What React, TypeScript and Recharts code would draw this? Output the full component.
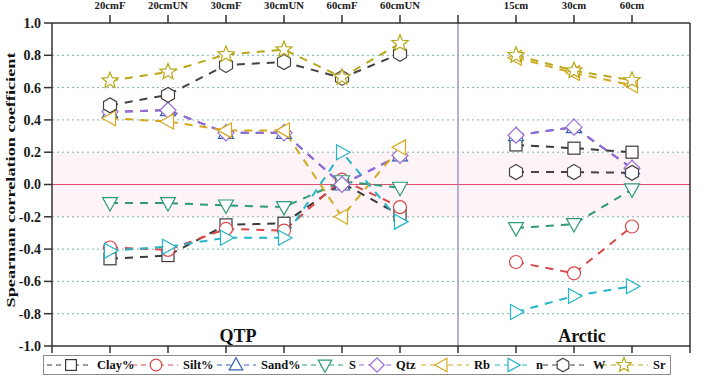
import React from 'react';
import {
  LineChart, Line, XAxis, YAxis, ReferenceLine, ReferenceArea, Legend, Customized,
} from 'recharts';

// x positions 1..10, slot 7 is the gap between QTP and Arctic
const categories = ['20cmF', '20cmUN', '30cmF', '30cmUN', '60cmF', '60cmUN', '', '15cm', '30cm', '60cm'];
const clay = [-0.46, -0.44, -0.25, -0.24, 0.01, -0.19, null, 0.245, 0.225, 0.2];
const silt = [-0.39, -0.405, -0.275, -0.285, 0.03, -0.14, null, -0.48, -0.55, -0.26];
const sand = [0.45, 0.46, 0.32, 0.32, 0.0, 0.18, null, 0.305, 0.355, 0.1];
const sVals = [-0.115, -0.115, -0.13, -0.14, 0.02, -0.02, null, -0.27, -0.245, -0.03];
const qtz = [0.45, 0.46, 0.32, 0.32, 0.0, 0.18, null, 0.305, 0.355, 0.1];
const rb = [0.41, 0.39, 0.335, 0.335, -0.2, 0.23, null, 0.785, 0.69, 0.615];
const nVals = [-0.41, -0.385, -0.33, -0.33, 0.2, -0.23, null, -0.79, -0.69, -0.63];
const w = [0.49, 0.555, 0.74, 0.758, 0.66, 0.81, null, 0.077, 0.077, 0.072];
const sr = [0.643, 0.697, 0.805, 0.835, 0.664, 0.874, null, 0.8, 0.705, 0.645];

const yTicks = [-1, -0.8, -0.6, -0.4, -0.2, 0, 0.2, 0.4, 0.6, 0.8, 1];
const gridValues = [-0.8, -0.6, -0.4, -0.2, 0.2, 0.4, 0.6, 0.8];
const bottomTicks = [0, 1, 2, 3, 4, 5, 6, 7, 8, 9, 10, 11];
const topTicks = [1, 2, 3, 4, 5, 6, 7, 8, 9, 10];

const data = categories.map((c, i) => ({
  x: i + 1,
  clay: clay[i], silt: silt[i], sand: sand[i], s: sVals[i], qtz: qtz[i],
  rb: rb[i], n: nVals[i], w: w[i], sr: sr[i],
}));

const series = [
  { key: 'clay', name: 'Clay%', color: '#3a3a3a', shape: 'square' },
  { key: 'silt', name: 'Silt%', color: '#d94848', shape: 'circle' },
  { key: 'sand', name: 'Sand%', color: '#2f62b0', shape: 'triUp' },
  { key: 's', name: 'S', color: '#2e9a78', shape: 'triDown' },
  { key: 'qtz', name: 'Qtz', color: '#9a6ad8', shape: 'diamond' },
  { key: 'rb', name: 'Rb', color: '#d6a820', shape: 'triLeft' },
  { key: 'n', name: 'n', color: '#22b4c8', shape: 'triRight' },
  { key: 'w', name: 'W', color: '#4a4242', shape: 'hexagon' },
  { key: 'sr', name: 'Sr', color: '#b8a818', shape: 'star' },
];

// legend layout (px from the legend box's left edge): item start, marker centre, label start
const legendStart = [3, 88, 173, 258, 315, 377, 451, 499, 558];
const legendMarker = [27, 112, 192, 281, 333, 398, 469, 519, 580];
const legendLabel = [53, 139, 217, 305, 352, 430, 492, 549, 609];

const FONT = '"Liberation Serif", "Times New Roman", serif';

function Marker({ shape, cx, cy, color, k = 1 }: any) {
  const p = (pts: number[][]) => pts.map(([a, b]) => `${cx + a * k},${cy + b * k}`).join(' ');
  const common = { fill: '#fff', stroke: color, strokeWidth: 1.2 };
  switch (shape) {
    case 'square':
      return <rect x={cx - 6 * k} y={cy - 6 * k} width={12 * k} height={12 * k} {...common} />;
    case 'circle':
      return <circle cx={cx} cy={cy} r={6.5 * k} {...common} />;
    case 'triUp':
      return <polygon points={p([[0, -8], [7.5, 5.5], [-7.5, 5.5]])} {...common} />;
    case 'triDown':
      return <polygon points={p([[0, 8], [7.5, -5.5], [-7.5, -5.5]])} {...common} />;
    case 'triLeft':
      return <polygon points={p([[-8, 0], [5.5, -7.5], [5.5, 7.5]])} {...common} />;
    case 'triRight':
      return <polygon points={p([[8, 0], [-5.5, -7.5], [-5.5, 7.5]])} {...common} />;
    case 'diamond':
      return <polygon points={p([[0, -8], [8, 0], [0, 8], [-8, 0]])} {...common} />;
    case 'hexagon': {
      const pts = [0, 1, 2, 3, 4, 5].map((i) => {
        const a = (-90 + 60 * i) * Math.PI / 180;
        return [7.5 * Math.cos(a), 7.5 * Math.sin(a)];
      });
      return <polygon points={p(pts)} {...common} />;
    }
    case 'star': {
      const pts = [];
      for (let i = 0; i < 10; i++) {
        const r = i % 2 === 0 ? 8.5 : 3.8;
        const a = (-90 + 36 * i) * Math.PI / 180;
        pts.push([r * Math.cos(a), r * Math.sin(a)]);
      }
      return <polygon points={p(pts)} {...common} />;
    }
    default:
      return null;
  }
}

const makeDot = (shape: string, color: string) => (props: any) => {
  const { cx, cy, index, value } = props;
  if (cx == null || cy == null || value == null) return <g key={`e${index}`} />;
  return <Marker key={`m${index}`} shape={shape} cx={cx} cy={cy} color={color} />;
};

const renderLegend = () => (
  <div style={{
    position: 'relative', width: 628, height: 20, border: '1px solid #8a8a8a', background: '#fff',
    fontFamily: FONT, fontWeight: 'bold', fontSize: 12.5, color: '#111', boxSizing: 'border-box',
  }}>
    <svg width={626} height={18} style={{ position: 'absolute', left: 0, top: 0 }}>
      {series.map((s, i) => (
        <g key={s.key}>
          <line x1={legendStart[i]} y1={9} x2={legendLabel[i] - 5} y2={9} stroke={s.color} strokeWidth={1.2}
            strokeDasharray="5 4" />
          <Marker shape={s.shape} cx={legendMarker[i]} cy={9} color={s.color} k={0.9} />
        </g>
      ))}
    </svg>
    {series.map((s, i) => (
      <span key={s.key} style={{ position: 'absolute', left: legendLabel[i], top: 1, lineHeight: '16px' }}>
        {s.name}
      </span>
    ))}
  </div>
);

const axisStroke = { stroke: '#333', strokeWidth: 1.5 };
const tickStyle = { fontSize: 14, fontWeight: 'bold', fill: '#1a1a1a', fontFamily: FONT };

export default function App() {
  return (
    <div style={{ position: 'absolute', left: 0, top: 0, width: 720, height: 377, background: '#fff' }}>
      <LineChart width={720} height={377} data={data} margin={{ top: 8, right: 0, bottom: 21, left: 8 }}
        style={{ fontFamily: FONT }}>
        <XAxis xAxisId="bottom" type="number" dataKey="x" domain={[0, 11]} ticks={bottomTicks} interval={0}
          tickFormatter={() => ''} height={10} tickSize={7} axisLine={axisStroke} tickLine={axisStroke} />
        <XAxis xAxisId="top" orientation="top" type="number" dataKey="x" domain={[0, 11]} ticks={topTicks}
          interval={0} tickFormatter={(v: number) => categories[v - 1] ?? ''} height={15} tickSize={8} tickMargin={6}
          axisLine={axisStroke} tickLine={axisStroke}
          tick={{ fontSize: 10.7, fontWeight: 'bold', fill: '#1a1a1a', fontFamily: FONT }} />
        <YAxis yAxisId="left" domain={[-1, 1]} ticks={yTicks} interval={0} width={44} tickSize={8} tickMargin={3}
          tickFormatter={(v: number) => v.toFixed(1)} axisLine={axisStroke} tickLine={axisStroke} tick={tickStyle} />
        <YAxis yAxisId="right" orientation="right" domain={[-1, 1]} ticks={yTicks} interval={0} width={30}
          tickSize={7} tickMargin={1} tickFormatter={(v: number) => v.toFixed(1)} axisLine={axisStroke}
          tickLine={axisStroke} tick={tickStyle} />

        <ReferenceArea xAxisId="bottom" yAxisId="left" y1={-0.2} y2={0.2} fill="#fef4f8" fillOpacity={1} stroke="none" />
        {gridValues.map((v) => (
          <ReferenceLine key={v} xAxisId="bottom" yAxisId="left" y={v} stroke="#7fb0b0" strokeWidth={1}
            strokeDasharray="2 3" />
        ))}
        <ReferenceLine xAxisId="bottom" yAxisId="left" y={0} stroke="#e0506e" strokeWidth={1.2} />
        <ReferenceLine xAxisId="bottom" yAxisId="left" x={7} stroke="#8c8cc8" strokeWidth={1.3} />

        {series.map((s) => (
          <Line key={s.key} xAxisId="bottom" yAxisId="left" type="linear" dataKey={s.key} name={s.name}
            stroke={s.color} strokeWidth={2} strokeDasharray="8 7" dot={makeDot(s.shape, s.color)}
            activeDot={false} connectNulls={false} isAnimationActive={false} />
        ))}

        <Customized component={() => (
          <g fontFamily={FONT} fontWeight="bold" fill="#111">
            <text x={238} y={342} fontSize={18} textAnchor="middle">QTP</text>
            <text x={582} y={342} fontSize={18} textAnchor="middle">Arctic</text>
            <text x={15} y={180} fontSize={13} textAnchor="middle" transform="rotate(-90 15 180)"
              textLength={255} lengthAdjust="spacingAndGlyphs">Spearman correlation coefficient</text>
          </g>
        )} />

        <Legend layout="horizontal" verticalAlign="middle" align="center" content={renderLegend}
          wrapperStyle={{ left: 43, top: 355, width: 628 }} />
      </LineChart>
    </div>
  );
}
